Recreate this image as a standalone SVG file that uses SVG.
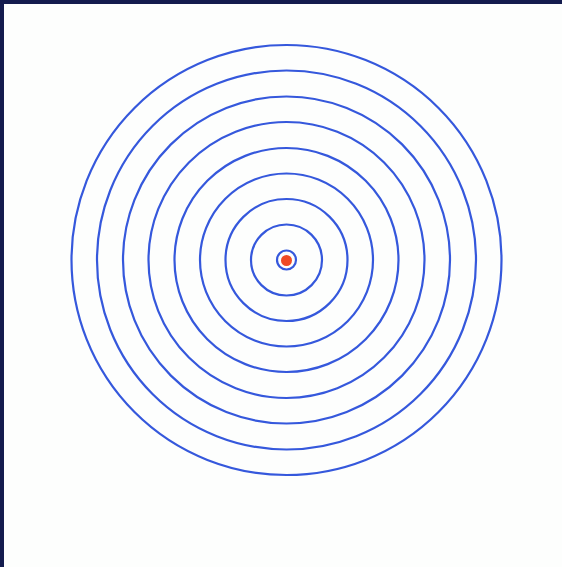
<svg xmlns="http://www.w3.org/2000/svg" width="562" height="567" viewBox="0 0 562 567">
<style>
.ring{fill:none;stroke:#3558dc;stroke-width:2.2}
</style>
<rect x="0" y="0" width="562" height="567" fill="#fdfefd"/>
<rect x="0" y="0" width="562" height="4" fill="#141c4e"/>
<rect x="0" y="0" width="4" height="567" fill="#141c4e"/>
<g id="rings">
<circle class="ring" cx="286.5" cy="260" r="215"/>
<circle class="ring" cx="286.5" cy="260" r="189.5"/>
<circle class="ring" cx="286.5" cy="260" r="163.5"/>
<circle class="ring" cx="286.5" cy="260" r="138"/>
<circle class="ring" cx="286.5" cy="260" r="112"/>
<circle class="ring" cx="286.5" cy="260" r="86.5"/>
<circle class="ring" cx="286.5" cy="260" r="61"/>
<circle class="ring" cx="286.5" cy="260" r="35.5"/>
<circle class="ring" cx="286.5" cy="260" r="9.5"/>
</g>
<g id="center">
<circle cx="286.5" cy="260.5" r="5.5" fill="#f04a24"/>
</g>
</svg>
